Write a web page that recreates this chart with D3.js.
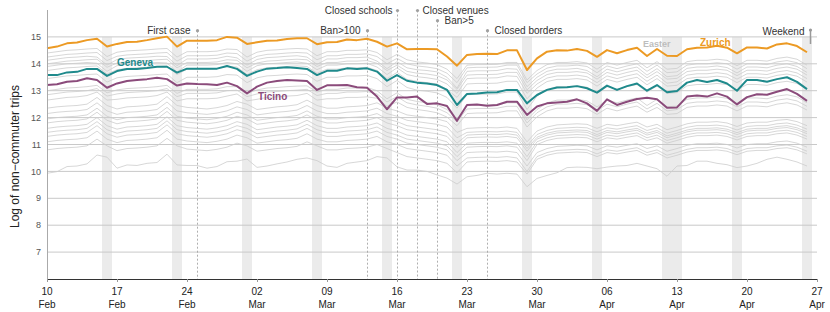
<!DOCTYPE html>
<html>
<head>
<meta charset="utf-8">
<script src="https://cdn.jsdelivr.net/npm/d3@7"></script>
<style>
  body { margin: 0; background: #fff; }
  svg { display: block; font-family: "Liberation Sans", Arial, Helvetica, sans-serif; }
</style>
</head>
<body>
<svg id="chart" width="830" height="312"></svg>
<script>
// ---------------- DATA ----------------
const firstDay = "2020-02-10";
const lastTickDay = "2020-04-27";
const tickDays = ["2020-02-10","2020-02-17","2020-02-24","2020-03-02","2020-03-09","2020-03-16",
                  "2020-03-23","2020-03-30","2020-04-06","2020-04-13","2020-04-20","2020-04-27"];
const yTicks = [7, 8, 9, 10, 11, 12, 13, 14, 15];

// daily values, 10 Feb – 26 Apr 2020 (77 days)
const zurich = [
  14.58,14.64,14.76,14.79,14.88,14.93,14.64,
  14.74,14.81,14.82,14.88,14.95,15.01,14.64,
  14.86,14.86,14.86,14.88,15.00,14.97,14.74,
  14.80,14.86,14.87,14.92,14.95,14.95,14.73,
  14.80,14.81,14.90,14.88,14.93,14.82,14.64,
  14.76,14.54,14.55,14.55,14.54,14.27,13.93,
  14.33,14.36,14.37,14.36,14.50,14.50,13.77,
  14.20,14.45,14.50,14.49,14.55,14.48,14.26,
  14.51,14.39,14.51,14.60,14.29,14.55,14.30,
  14.29,14.54,14.60,14.61,14.67,14.60,14.39,
  14.61,14.61,14.57,14.72,14.76,14.66,14.43];
const geneva = [
  13.58,13.58,13.68,13.70,13.81,13.81,13.55,
  13.73,13.81,13.81,13.84,13.89,13.89,13.67,
  13.82,13.82,13.82,13.82,13.92,13.81,13.55,
  13.71,13.82,13.84,13.87,13.84,13.81,13.58,
  13.74,13.74,13.83,13.81,13.83,13.71,13.37,
  13.58,13.37,13.30,13.27,13.21,13.03,12.47,
  12.88,12.90,12.93,12.94,13.03,13.03,12.53,
  12.84,13.03,13.12,13.13,13.17,13.09,12.93,
  13.19,13.03,13.17,13.27,13.00,13.21,12.94,
  12.99,13.30,13.40,13.32,13.40,13.27,13.00,
  13.40,13.40,13.33,13.43,13.50,13.33,13.06];
const ticino = [
  13.21,13.24,13.33,13.36,13.46,13.40,13.11,
  13.27,13.36,13.40,13.43,13.48,13.43,13.19,
  13.27,13.25,13.24,13.21,13.30,13.17,12.90,
  13.15,13.30,13.36,13.40,13.38,13.36,13.03,
  13.20,13.20,13.21,13.13,13.11,12.78,12.31,
  12.75,12.75,12.78,12.51,12.53,12.43,11.88,
  12.47,12.49,12.44,12.47,12.59,12.59,12.10,
  12.41,12.53,12.56,12.59,12.68,12.53,12.25,
  12.68,12.47,12.59,12.69,12.74,12.68,12.37,
  12.38,12.78,12.82,12.78,12.90,12.78,12.49,
  12.76,12.87,12.85,12.96,13.06,12.88,12.62];

// other cantons (grey)
const g01 = [14.40,14.45,14.50,14.52,14.55,14.57,14.27, 14.43,14.48,14.50,14.52,14.55,14.57,14.25, 14.45,14.45,14.45,14.47,14.55,14.53,14.25, 14.43,14.50,14.52,14.55,14.57,14.55,14.30, 14.45,14.45,14.50,14.50,14.52,14.42,14.15, 14.35,14.15,14.07,14.03,13.97,13.80,13.45, 13.95,13.97,13.97,13.98,14.05,14.05,13.40, 13.75,13.97,14.05,14.05,14.08,14.03,13.80, 14.05,13.95,14.05,14.13,13.85,14.08,13.80, 13.83,14.08,14.13,14.13,14.17,14.13,13.93, 14.13,14.13,14.10,14.20,14.25,14.17,13.95];
const g02 = [14.25,14.30,14.35,14.37,14.40,14.42,14.12, 14.28,14.33,14.35,14.37,14.40,14.42,14.10, 14.30,14.30,14.30,14.32,14.40,14.38,14.10, 14.28,14.35,14.37,14.40,14.42,14.40,14.15, 14.30,14.30,14.35,14.35,14.37,14.27,14.00, 14.20,14.00,13.92,13.88,13.82,13.65,13.30, 13.85,13.87,13.87,13.88,13.95,13.95,13.30, 13.62,13.84,13.92,13.92,13.95,13.90,13.67, 13.92,13.82,13.92,14.00,13.72,13.95,13.67, 13.70,13.95,14.00,14.00,14.04,14.00,13.80, 14.00,14.00,13.97,14.07,14.12,14.04,13.82];
const g03 = [14.13,14.18,14.23,14.25,14.28,14.25,13.95, 14.16,14.21,14.23,14.25,14.28,14.27,13.93, 14.18,14.18,14.18,14.20,14.28,14.22,13.95, 14.16,14.23,14.25,14.28,14.30,14.25,13.98, 14.18,14.18,14.23,14.23,14.25,14.10,13.82, 14.08,13.85,13.78,13.75,13.70,13.50,13.10, 13.72,13.74,13.74,13.75,13.82,13.80,13.15, 13.50,13.72,13.80,13.80,13.83,13.75,13.52, 13.80,13.70,13.80,13.88,13.58,13.82,13.52, 13.56,13.83,13.88,13.88,13.92,13.86,13.66, 13.88,13.88,13.85,13.95,14.00,13.90,13.68];
const g04 = [14.00,14.05,14.10,14.12,14.15,14.17,13.87, 14.03,14.08,14.10,14.12,14.15,14.17,13.85, 14.05,14.05,14.05,14.07,14.15,14.13,13.85, 14.03,14.10,14.12,14.15,14.17,14.15,13.90, 14.05,14.05,14.10,14.10,14.12,14.02,13.75, 13.95,13.72,13.65,13.62,13.56,13.40,13.05, 13.58,13.60,13.60,13.61,13.68,13.68,13.03, 13.38,13.60,13.68,13.68,13.71,13.66,13.43, 13.68,13.58,13.68,13.76,13.48,13.71,13.43, 13.46,13.71,13.76,13.76,13.80,13.76,13.56, 13.76,13.76,13.73,13.83,13.88,13.80,13.58];
const g05 = [13.90,13.95,14.00,14.02,14.05,14.02,13.72, 13.93,13.98,14.00,14.02,14.05,14.03,13.70, 13.95,13.95,13.95,13.97,14.05,14.00,13.72, 13.93,14.00,14.02,14.05,14.07,14.02,13.78, 13.95,13.95,14.00,14.00,14.02,13.88,13.60, 13.85,13.60,13.52,13.48,13.42,13.25,12.90, 13.45,13.47,13.47,13.48,13.55,13.53,12.90, 13.25,13.47,13.55,13.55,13.58,13.52,13.30, 13.55,13.45,13.55,13.63,13.35,13.58,13.28, 13.33,13.58,13.63,13.63,13.67,13.62,13.43, 13.63,13.63,13.60,13.70,13.75,13.66,13.45];
const g06 = [13.75,13.80,13.85,13.87,13.90,13.92,13.62, 13.78,13.83,13.85,13.87,13.90,13.92,13.60, 13.80,13.80,13.80,13.82,13.90,13.88,13.60, 13.78,13.85,13.87,13.90,13.92,13.90,13.65, 13.80,13.80,13.85,13.85,13.87,13.75,13.45, 13.68,13.42,13.35,13.30,13.25,13.05,12.75, 13.25,13.27,13.27,13.28,13.35,13.35,12.70, 13.10,13.34,13.42,13.42,13.45,13.40,13.17, 13.42,13.32,13.42,13.50,13.22,13.45,13.17, 13.20,13.45,13.50,13.50,13.54,13.50,13.30, 13.50,13.50,13.47,13.57,13.62,13.54,13.32];
const g07 = [13.45,13.50,13.55,13.57,13.60,13.62,13.32, 13.48,13.53,13.55,13.57,13.60,13.62,13.30, 13.50,13.50,13.50,13.52,13.60,13.58,13.30, 13.48,13.55,13.57,13.60,13.62,13.60,13.35, 13.50,13.50,13.55,13.55,13.57,13.45,13.15, 13.38,13.12,13.02,12.98,12.92,12.75,12.35, 12.85,12.87,12.87,12.88,12.95,12.95,12.30, 12.80,13.05,13.15,13.15,13.18,13.13,12.90, 13.15,13.05,13.15,13.23,12.95,13.18,12.90, 12.93,13.18,13.23,13.23,13.27,13.23,13.03, 13.23,13.23,13.20,13.30,13.35,13.27,13.05];
const g08 = [13.00,13.05,13.10,13.12,13.15,13.20,12.92, 13.03,13.08,13.10,13.12,13.15,13.20,12.90, 13.05,13.05,13.05,13.07,13.15,13.15,12.90, 13.03,13.10,13.12,13.15,13.17,13.18,12.95, 13.05,13.05,13.10,13.10,13.12,13.00,12.70, 12.92,12.68,12.60,12.55,12.48,12.30,11.95, 12.45,12.47,12.47,12.48,12.55,12.55,11.92, 12.30,12.55,12.65,12.65,12.68,12.62,12.40, 12.65,12.55,12.65,12.73,12.45,12.68,12.40, 12.43,12.68,12.73,12.73,12.77,12.72,12.53, 12.73,12.73,12.70,12.80,12.85,12.77,12.55];
const g09 = [12.85,12.90,12.95,12.97,13.00,13.08,12.80, 12.88,12.93,12.95,12.97,13.00,13.08,12.78, 12.90,12.90,12.90,12.92,13.00,13.02,12.78, 12.88,12.95,12.97,13.00,13.02,13.05,12.82, 12.90,12.90,12.95,12.95,12.97,12.88,12.58, 12.78,12.55,12.47,12.42,12.35,12.18,11.85, 12.32,12.34,12.34,12.35,12.42,12.42,11.80, 12.18,12.40,12.50,12.50,12.53,12.48,12.25, 12.50,12.40,12.50,12.58,12.32,12.53,12.25, 12.30,12.53,12.58,12.58,12.62,12.58,12.40, 12.58,12.58,12.55,12.65,12.70,12.62,12.42];
const g10 = [12.65,12.70,12.75,12.77,12.82,12.95,12.65, 12.68,12.73,12.75,12.77,12.82,12.95,12.62, 12.70,12.70,12.70,12.72,12.80,12.88,12.62, 12.68,12.75,12.77,12.80,12.82,12.90,12.65, 12.70,12.70,12.75,12.75,12.77,12.72,12.42, 12.58,12.38,12.30,12.25,12.18,12.02,11.70, 12.15,12.17,12.17,12.18,12.25,12.25,11.65, 12.03,12.25,12.35,12.35,12.38,12.33,12.12, 12.35,12.25,12.35,12.43,12.20,12.38,12.12, 12.15,12.38,12.43,12.43,12.47,12.43,12.25, 12.43,12.43,12.40,12.50,12.55,12.47,12.28];
const g11 = [12.35,12.40,12.43,12.45,12.50,12.75,12.45, 12.32,12.40,12.42,12.45,12.50,12.78,12.45, 12.38,12.35,12.32,12.37,12.45,12.60,12.50, 12.30,12.35,12.40,12.43,12.48,12.65,12.45, 12.35,12.35,12.40,12.42,12.45,12.55,12.35, 12.25,12.10,12.05,12.00,11.95,11.85,11.45, 11.60,11.62,11.63,11.62,11.65,11.60,11.10, 11.50,11.65,11.73,11.75,11.77,11.75,11.60, 11.75,11.70,11.77,11.83,11.65,11.75,11.55, 11.65,11.77,11.83,11.83,11.85,11.80,11.67, 11.80,11.83,11.83,11.90,11.93,11.85,11.70];
const g12 = [12.15,12.20,12.23,12.25,12.30,12.55,12.25, 12.12,12.20,12.22,12.25,12.30,12.58,12.25, 12.18,12.15,12.12,12.17,12.25,12.40,12.30, 12.10,12.15,12.20,12.23,12.28,12.45,12.25, 12.15,12.15,12.20,12.22,12.25,12.35,12.15, 12.05,11.90,11.85,11.80,11.75,11.65,11.25, 11.45,11.47,11.48,11.47,11.50,11.45,10.95, 11.37,11.52,11.60,11.62,11.64,11.62,11.47, 11.62,11.57,11.64,11.70,11.52,11.62,11.42, 11.52,11.64,11.70,11.70,11.72,11.67,11.54, 11.67,11.70,11.70,11.77,11.80,11.72,11.57];
const g13 = [11.95,12.00,12.03,12.05,12.10,12.35,12.05, 11.92,12.00,12.02,12.05,12.10,12.38,12.05, 11.98,11.95,11.92,11.97,12.05,12.20,12.10, 11.90,11.95,12.00,12.03,12.08,12.25,12.05, 11.95,11.95,12.00,12.02,12.05,12.15,11.95, 11.85,11.70,11.65,11.60,11.55,11.45,11.05, 11.35,11.37,11.38,11.37,11.40,11.35,10.85, 11.27,11.42,11.50,11.52,11.54,11.52,11.37, 11.52,11.47,11.54,11.60,11.42,11.52,11.32, 11.42,11.54,11.60,11.60,11.62,11.57,11.44, 11.57,11.60,11.60,11.67,11.70,11.62,11.47];
const g14 = [11.80,11.85,11.88,11.90,11.95,12.20,11.90, 11.77,11.85,11.87,11.90,11.95,12.23,11.90, 11.83,11.80,11.77,11.82,11.90,12.05,11.95, 11.75,11.80,11.85,11.88,11.93,12.10,11.90, 11.80,11.80,11.85,11.87,11.90,12.00,11.80, 11.70,11.55,11.50,11.45,11.40,11.30,10.90, 11.25,11.27,11.28,11.27,11.30,11.25,10.75, 11.20,11.35,11.43,11.45,11.47,11.45,11.30, 11.45,11.40,11.47,11.53,11.35,11.45,11.25, 11.35,11.47,11.53,11.53,11.55,11.50,11.37, 11.50,11.53,11.53,11.60,11.63,11.55,11.40];
const g15 = [11.60,11.65,11.68,11.70,11.75,12.00,11.70, 11.57,11.65,11.67,11.70,11.75,12.03,11.70, 11.63,11.60,11.57,11.62,11.70,11.85,11.75, 11.55,11.60,11.65,11.68,11.73,11.90,11.70, 11.60,11.60,11.65,11.67,11.70,11.80,11.60, 11.50,11.35,11.30,11.25,11.20,11.10,10.70, 11.05,11.07,11.08,11.07,11.10,11.05,10.55, 11.10,11.25,11.33,11.35,11.37,11.35,11.20, 11.35,11.30,11.37,11.43,11.25,11.35,11.15, 11.25,11.37,11.43,11.43,11.45,11.40,11.27, 11.40,11.43,11.43,11.50,11.53,11.45,11.30];
const g16 = [11.45,11.50,11.53,11.55,11.60,11.85,11.55, 11.42,11.50,11.52,11.55,11.60,11.88,11.55, 11.48,11.45,11.42,11.47,11.55,11.70,11.60, 11.40,11.45,11.50,11.53,11.58,11.75,11.55, 11.45,11.45,11.50,11.52,11.55,11.65,11.45, 11.35,11.20,11.15,11.10,11.05,10.95,10.55, 10.90,10.92,10.93,10.92,10.95,10.90,10.40, 11.00,11.15,11.23,11.25,11.27,11.25,11.10, 11.25,11.20,11.27,11.33,11.15,11.25,11.05, 11.15,11.27,11.33,11.33,11.35,11.30,11.17, 11.30,11.33,11.33,11.40,11.43,11.35,11.20];
const g17 = [11.30,11.35,11.38,11.40,11.45,11.70,11.40, 11.27,11.35,11.37,11.40,11.45,11.73,11.40, 11.33,11.30,11.27,11.32,11.40,11.55,11.45, 11.25,11.30,11.35,11.38,11.43,11.60,11.40, 11.30,11.30,11.35,11.37,11.40,11.50,11.30, 11.20,11.05,11.00,10.95,10.90,10.80,10.40, 10.70,10.72,10.73,10.72,10.75,10.70,10.20, 10.70,10.85,10.93,10.95,10.97,10.95,10.80, 10.95,10.90,10.97,11.03,10.85,10.95,10.75, 10.85,10.97,11.03,11.03,11.05,11.00,10.87, 11.00,11.03,11.03,11.10,11.13,11.05,10.90];
const g18 = [11.10,11.15,11.18,11.20,11.25,11.50,11.20, 11.07,11.15,11.17,11.20,11.25,11.53,11.20, 11.13,11.10,11.07,11.12,11.20,11.35,11.25, 11.05,11.10,11.15,11.18,11.23,11.40,11.20, 11.10,11.10,11.15,11.17,11.20,11.30,11.10, 11.00,10.85,10.80,10.75,10.70,10.60,10.20, 10.50,10.52,10.53,10.52,10.55,10.50,10.00, 10.55,10.70,10.78,10.80,10.82,10.80,10.65, 10.80,10.75,10.82,10.88,10.70,10.80,10.60, 10.70,10.82,10.88,10.88,10.90,10.85,10.72, 10.85,10.88,10.88,10.95,10.98,10.90,10.75];
const g19 = [10.80,10.85,10.88,10.90,10.95,11.20,10.95, 10.77,10.85,10.87,10.90,10.95,11.23,10.95, 10.83,10.80,10.77,10.82,10.90,11.05,10.95, 10.75,10.80,10.85,10.88,10.93,11.10,10.95, 10.80,10.80,10.85,10.87,10.90,11.00,10.85, 10.70,10.55,10.50,10.45,10.40,10.30,9.95, 10.35,10.37,10.38,10.37,10.40,10.35,9.90, 10.45,10.60,10.68,10.70,10.72,10.70,10.55, 10.70,10.65,10.72,10.78,10.60,10.70,10.50, 10.60,10.72,10.78,10.78,10.80,10.75,10.62, 10.75,10.78,10.78,10.85,10.88,10.80,10.65];
const g20 = [9.93,9.99,10.18,10.20,10.28,10.61,10.53, 10.12,10.24,10.22,10.30,10.33,10.64,10.24, 10.22,10.22,10.12,10.18,10.36,10.38,10.46, 10.15,10.20,10.28,10.35,10.45,10.50,10.40, 10.20,10.15,10.30,10.35,10.40,10.55,10.50, 10.17,10.05,10.05,10.00,9.87,9.75,9.53, 9.80,9.85,9.93,9.90,9.93,9.90,9.43, 9.74,9.85,9.95,10.14,10.16,10.15,10.10, 10.16,10.20,10.22,10.30,10.20,10.10,9.82, 10.20,10.22,10.38,10.38,10.30,10.25,10.14, 10.20,10.30,10.45,10.53,10.45,10.35,10.20];
const otherCantons = [g01,g02,g03,g04,g05,g06,g07,g08,g09,g10,g11,g12,g13,g14,g15,g16,g17,g18,g19,g20];

// shaded days: Sundays, plus Easter Sunday + Monday
const shadedStart = ["2020-02-16","2020-02-23","2020-03-01","2020-03-08","2020-03-15","2020-03-22",
                     "2020-03-29","2020-04-05","2020-04-12","2020-04-19","2020-04-26"];
const shadedEnd   = ["2020-02-16","2020-02-23","2020-03-01","2020-03-08","2020-03-15","2020-03-22",
                     "2020-03-29","2020-04-05","2020-04-13","2020-04-19","2020-04-26"];

// policy events
const eventDays   = ["2020-02-25","2020-03-13","2020-03-16","2020-03-18","2020-03-20","2020-03-25"];
const eventLabels = ["First case","Ban>100","Closed schools","Closed venues","Ban>5","Closed borders"];

// ---------------- DRAWING ----------------
const parse = d3.utcParse("%Y-%m-%d");
const days = d3.utcDay.range(parse(firstDay), parse("2020-04-27"));
const svg = d3.select("#chart");
const plotL = 47, plotR = 817, plotT = 10, plotB = 279;

const x = d3.scaleUtc().domain([parse(firstDay), parse(lastTickDay)]).range([plotL, plotR]);
const y = d3.scaleLinear().domain([6, 16]).range([plotB, plotT]);
const halfDay = 12 * 3600 * 1000;
const shift = (s, ms) => new Date(parse(s).getTime() + ms);

// shaded bands
svg.append("g").selectAll("rect").data(shadedStart).join("rect")
  .attr("x", d => x(shift(d, -halfDay)))
  .attr("width", (d, i) => x(shift(shadedEnd[i], halfDay)) - x(shift(d, -halfDay)))
  .attr("y", y(15))
  .attr("height", y(6) - y(15))
  .attr("fill", "#ebebeb");

// gridlines
svg.append("g").selectAll("line").data(yTicks).join("line")
  .attr("x1", plotL).attr("x2", plotR)
  .attr("y1", d => y(d)).attr("y2", d => y(d))
  .attr("stroke", "#c9c9c9").attr("stroke-width", 1);

// event lines
const evLayout = [
  {dotY: 30.7, anchor: "end",   dx: -7},
  {dotY: 30.7, anchor: "end",   dx: -7},
  {dotY: 10.5, anchor: "end",   dx: -5},
  {dotY: 10.5, anchor: "start", dx: 5},
  {dotY: 20.7, anchor: "start", dx: 7},
  {dotY: 30.7, anchor: "start", dx: 7}
];
const evG = svg.append("g");
eventDays.forEach((d, i) => {
  const ex = Math.round(x(parse(d))) + 0.5;
  const L = evLayout[i];
  evG.append("line").attr("x1", ex).attr("x2", ex).attr("y1", L.dotY).attr("y2", plotB)
    .attr("stroke", "#9a9a9a").attr("stroke-width", 0.8).attr("stroke-dasharray", "2,2");
  evG.append("circle").attr("cx", ex).attr("cy", L.dotY).attr("r", 1.6).attr("fill", "#a0a0a0");
  evG.append("text").attr("x", ex + L.dx).attr("y", L.dotY + 3.6)
    .attr("text-anchor", L.anchor).attr("font-size", 10).attr("fill", "#333")
    .text(eventLabels[i]);
});

// lines
const line = d3.line().x((d, i) => x(days[i])).y(d => y(d));
svg.append("g").selectAll("path").data(otherCantons).join("path")
  .attr("d", line).attr("fill", "none")
  .attr("stroke", "#cdcdcd").attr("stroke-width", 0.8);

const highlighted = [
  {values: ticino, color: "#8b4b7b"},
  {values: geneva, color: "#1f8a8c"},
  {values: zurich, color: "#ec9a24"}
];
highlighted.forEach(h => {
  svg.append("path").attr("d", line(h.values)).attr("fill", "none")
    .attr("stroke", h.color).attr("stroke-width", 2).attr("stroke-linejoin", "round");
});

// series labels
const lab = (t, lx, ly, col, size) => svg.append("text").attr("x", lx).attr("y", ly)
  .attr("font-size", size).attr("font-weight", "bold").attr("fill", col).text(t);
lab("Geneva", 117, 65.5, "#1f8a8c", 10);
lab("Ticino", 258, 100.3, "#8b4b7b", 10);
lab("Zurich", 700, 45.5, "#ec9a24", 10);
lab("Easter", 643, 47.3, "#bdbdbd", 9);

// weekend marker
const wx = Math.round(x(parse("2020-04-26"))) + 3.5;
svg.append("line").attr("x1", wx).attr("x2", wx).attr("y1", 30).attr("y2", 44)
  .attr("stroke", "#9a9a9a").attr("stroke-width", 1.5);
svg.append("circle").attr("cx", wx).attr("cy", 30).attr("r", 1.6).attr("fill", "#9a9a9a");
svg.append("text").attr("x", wx - 6).attr("y", 34.5).attr("text-anchor", "end")
  .attr("font-size", 10).attr("fill", "#333").text("Weekend");

// y axis
svg.append("line").attr("x1", plotL + 0.5).attr("x2", plotL + 0.5).attr("y1", plotT).attr("y2", plotB)
  .attr("stroke", "#aaa").attr("stroke-width", 1);
svg.append("g").selectAll("text").data(yTicks).join("text")
  .attr("x", 41).attr("y", d => y(d)).attr("dy", "0.35em")
  .attr("text-anchor", "end").attr("font-size", 9).attr("fill", "#555")
  .text(d => d);
svg.append("text")
  .attr("transform", `translate(19,${(plotT + plotB) / 2 + 12}) rotate(-90)`)
  .attr("text-anchor", "middle").attr("font-size", 12).attr("fill", "#222")
  .text("Log of non\u2212commuter trips");

// x axis
const xAxis = d3.axisBottom(x).tickValues(tickDays.map(parse)).tickSize(3).tickFormat("");
const xg = svg.append("g").attr("transform", `translate(0,${plotB})`).call(xAxis);
xg.select(".domain").attr("stroke", "#333").attr("d", `M${plotL},0.5H${plotR}`);
xg.selectAll(".tick line").attr("stroke", "#999");
const fmtDay = d3.utcFormat("%d"), fmtMon = d3.utcFormat("%b");
const tl = svg.append("g").selectAll("text").data(tickDays.map(parse)).join("text")
  .attr("text-anchor", "middle").attr("font-size", 10).attr("fill", "#222");
tl.append("tspan").attr("x", d => x(d)).attr("y", 295.3).text(d => fmtDay(d));
tl.append("tspan").attr("x", d => x(d)).attr("y", 308).text(d => fmtMon(d));
</script>
</body>
</html>
